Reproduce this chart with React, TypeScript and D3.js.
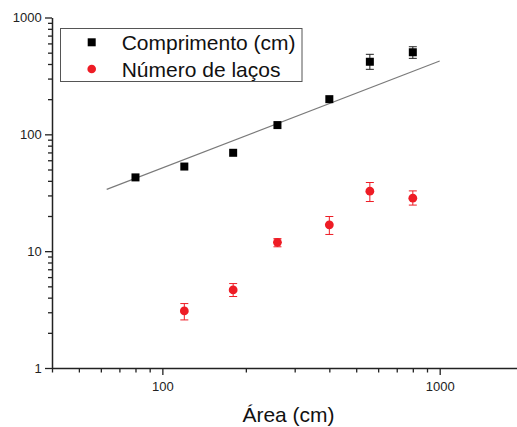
import React, { useEffect, useRef } from "react";
import * as d3 from "d3";

// Area (cm) of each sample
const areas = [80, 120, 180, 260, 400, 560, 800];

// Length (cm) with error bars
const lengthValues = [42.8, 53, 69.5, 120, 200, 418, 504];
const lengthErrLow = [null, null, null, null, null, 360, 447];
const lengthErrHigh = [null, null, null, null, null, 484, 562];

// Number of loops with error bars (no value at area 80)
const loopAreas = [120, 180, 260, 400, 560, 800];
const loopValues = [3.08, 4.66, 11.9, 16.8, 32.6, 28.4];
const loopErrLow = [2.58, 4.09, 10.9, 13.9, 26.6, 24.8];
const loopErrHigh = [3.56, 5.28, 12.8, 19.8, 38.7, 32.8];

// Power-law fit to the length data, drawn between its end points
const fitX = [63, 1000];
const fitY = [33.8, 424];

const xMajor = [100, 1000];
const xMinor = [40, 50, 60, 70, 80, 90, 200, 300, 400, 500, 600, 700, 800, 900];
const yMajor = [1, 10, 100, 1000];
const yMinor = [2, 3, 4, 5, 6, 7, 8, 9, 20, 30, 40, 50, 60, 70, 80, 90, 200, 300, 400, 500, 600, 700, 800, 900];

const legendLabels = ["Comprimento (cm)", "Número de laços"];
const xTitle = "Área (cm)";

const W = 517;
const H = 427;
const FONT = "'Liberation Sans', Arial, sans-serif";
const RED = "#ee1c25";
const AXIS = "#222";

export default function App() {
  const ref = useRef<SVGSVGElement | null>(null);

  const x = d3.scaleLog().domain([40, 1900]).range([52, W]);
  const y = d3.scaleLog().domain([1, 1000]).range([368, 17.5]);

  useEffect(() => {
    const svg = d3.select(ref.current);
    svg.selectAll(".axis").remove();

    const fmt = (d: any) => String(d);

    const style = (g: any) => {
      g.selectAll("path").attr("stroke", AXIS).attr("stroke-width", 1.5);
      g.selectAll("line").attr("stroke", AXIS).attr("stroke-width", 1.3);
      g.selectAll("text")
        .attr("fill", AXIS)
        .style("font-family", FONT)
        .style("font-size", "13px");
    };

    // minor ticks
    svg
      .append("g")
      .attr("class", "axis")
      .attr("transform", `translate(0,${y(1)})`)
      .call(d3.axisBottom(x).tickValues(xMinor).tickSize(4.5).tickSizeOuter(0).tickFormat(() => ""))
      .call(style)
      .call((g: any) => g.select(".domain").remove());
    svg
      .append("g")
      .attr("class", "axis")
      .attr("transform", `translate(${x(40)},0)`)
      .call(d3.axisLeft(y).tickValues(yMinor).tickSize(4).tickSizeOuter(0).tickFormat(() => ""))
      .call(style)
      .call((g: any) => g.select(".domain").remove());

    // major ticks, labels and axis lines
    svg
      .append("g")
      .attr("class", "axis")
      .attr("transform", `translate(0,${y(1)})`)
      .call(d3.axisBottom(x).tickValues(xMajor).tickSize(7).tickSizeOuter(0).tickPadding(6.5).tickFormat(fmt))
      .call(style);
    svg
      .append("g")
      .attr("class", "axis")
      .attr("transform", `translate(${x(40)},0)`)
      .call(d3.axisLeft(y).tickValues(yMajor).tickSize(7).tickSizeOuter(0).tickPadding(3.3).tickFormat(fmt))
      .call(style);
  }, []);

  const fitLine = d3
    .line<number>()
    .x((_, i) => x(fitX[i]))
    .y((d) => y(d));

  const cap = 4;

  return (
    <svg
      ref={ref}
      width={W}
      height={H}
      style={{ position: "absolute", left: 0, top: 0, background: "#fff" }}
    >
      <rect width={W} height={H} fill="#fff" />

      {/* fit line */}
      <path d={fitLine(fitY) || ""} fill="none" stroke="#7a7a7a" strokeWidth={1.1} />

      {/* length error bars */}
      {areas.map((a, i) =>
        lengthErrLow[i] != null ? (
          <g key={`le${i}`} stroke="#222" strokeWidth={1}>
            <line x1={x(a)} x2={x(a)} y1={y(lengthErrLow[i] as number)} y2={y(lengthErrHigh[i] as number)} />
            <line x1={x(a) - cap} x2={x(a) + cap} y1={y(lengthErrLow[i] as number)} y2={y(lengthErrLow[i] as number)} />
            <line x1={x(a) - cap} x2={x(a) + cap} y1={y(lengthErrHigh[i] as number)} y2={y(lengthErrHigh[i] as number)} />
          </g>
        ) : null
      )}
      {/* length markers */}
      {areas.map((a, i) => (
        <rect key={`l${i}`} x={x(a) - 4} y={y(lengthValues[i]) - 4} width={8} height={8} fill="#000" />
      ))}

      {/* loop error bars */}
      {loopAreas.map((a, i) => (
        <g key={`ne${i}`} stroke={RED} strokeWidth={1}>
          <line x1={x(a)} x2={x(a)} y1={y(loopErrLow[i])} y2={y(loopErrHigh[i])} />
          <line x1={x(a) - cap} x2={x(a) + cap} y1={y(loopErrLow[i])} y2={y(loopErrLow[i])} />
          <line x1={x(a) - cap} x2={x(a) + cap} y1={y(loopErrHigh[i])} y2={y(loopErrHigh[i])} />
        </g>
      ))}
      {/* loop markers */}
      {loopAreas.map((a, i) => (
        <circle key={`n${i}`} cx={x(a)} cy={y(loopValues[i])} r={4.4} fill={RED} />
      ))}

      {/* legend */}
      <rect x={60.5} y={28.5} width={241.5} height={53} fill="#fff" stroke="#555" strokeWidth={1} />
      <rect x={87.7} y={38.3} width={8} height={8} fill="#000" />
      <circle cx={91.7} cy={69} r={4.3} fill={RED} />
      <text x={121.7} y={50} fontFamily={FONT} fontSize={21} fill="#111">
        {legendLabels[0]}
      </text>
      <text x={121.7} y={77} fontFamily={FONT} fontSize={21} fill="#111">
        {legendLabels[1]}
      </text>

      {/* x axis title */}
      <text x={288.5} y={421.5} textAnchor="middle" fontFamily={FONT} fontSize={21} fill="#111">
        {xTitle}
      </text>
    </svg>
  );
}
